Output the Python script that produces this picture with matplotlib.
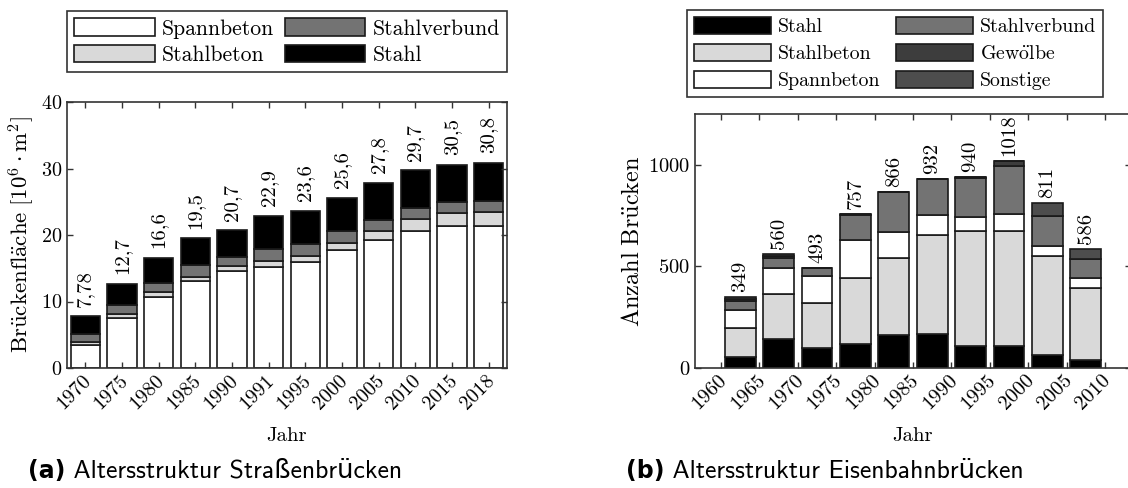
import matplotlib
matplotlib.use("Agg")
import matplotlib.pyplot as plt
import matplotlib.transforms as mtrans
import numpy as np

plt.rcParams['font.family'] = ['cmr10', 'DejaVu Serif']
plt.rcParams['mathtext.fontset'] = 'cm'
plt.rcParams['axes.formatter.use_mathtext'] = True
plt.rcParams['axes.unicode_minus'] = False
plt.rcParams['font.size'] = 15

W, H = 1128, 488

# ---------------- data (a) Straßenbrücken ----------------
years_a = ['1970', '1975', '1980', '1985', '1990', '1991', '1995', '2000', '2005', '2010', '2015', '2018']
a_spannbeton = [3.4, 7.45, 10.65, 13.15, 14.6, 15.2, 16.0, 17.8, 19.25, 20.65, 21.3, 21.4]
a_stahlbeton = [0.5, 0.65, 0.8, 0.6, 0.75, 0.85, 0.9, 1.0, 1.4, 1.7, 2.0, 2.0]
a_stahlverbund = [1.2, 1.3, 1.4, 1.75, 1.4, 1.8, 1.75, 1.75, 1.65, 1.75, 1.7, 1.7]
a_stahl = [2.68, 3.3, 3.75, 4.0, 3.95, 5.05, 4.95, 5.05, 5.5, 5.6, 5.5, 5.7]
a_totals = [7.78, 12.7, 16.6, 19.5, 20.7, 22.9, 23.6, 25.6, 27.8, 29.7, 30.5, 30.8]

# ---------------- data (b) Eisenbahnbrücken ----------------
ticks_b = ['1960', '1965', '1970', '1975', '1980', '1985', '1990', '1995', '2000', '2005', '2010']
b_stahl = [52, 143, 98, 118, 162, 167, 110, 110, 66, 39]
b_stahlbeton = [143, 221, 222, 325, 377, 487, 565, 565, 483, 354]
b_spannbeton = [92, 128, 131, 188, 128, 98, 68, 84, 53, 50]
b_stahlverbund = [44, 49, 42, 123, 197, 178, 194, 233, 144, 95]
b_gewoelbe = [10, 8, 0, 3, 2, 2, 3, 26, 0, 0]
b_sonstige = [8, 11, 0, 0, 0, 0, 0, 0, 65, 48]
b_totals = [349, 560, 493, 757, 866, 932, 940, 1018, 811, 586]

c_white = 'white'
c_light = '#d9d9d9'
c_mid = '#737373'
c_black = 'black'
c_gew = '#3d3d3d'
c_son = '#4d4d4d'
edge = '#1a1a1a'
spine_c = '#333333'

fig = plt.figure(figsize=(W / 100, H / 100), dpi=100)
ax1 = fig.add_axes([67 / W, 120 / H, 440 / W, 266 / H])
ax2 = fig.add_axes([695 / W, 120 / H, 436 / W, 254 / H])

def style(ax, fs):
    for s in ax.spines.values():
        s.set_color(spine_c)
        s.set_linewidth(1.2)
    ax.tick_params(direction='in', top=True, right=True, length=4, width=1,
                   color=spine_c, labelsize=fs)
    ax.tick_params(axis='x', pad=7)
    shift = mtrans.ScaledTranslation(3 / 100, 0, fig.dpi_scale_trans)
    for lab in ax.get_xticklabels():
        lab.set_transform(lab.get_transform() + shift)

# ---------- chart (a) ----------
xa = np.arange(len(years_a))
bw = 0.8
kw = dict(width=bw, edgecolor=edge, linewidth=1.2)
bottom = np.zeros(len(xa))
series_a = [('Spannbeton', a_spannbeton, c_white), ('Stahlbeton', a_stahlbeton, c_light),
            ('Stahlverbund', a_stahlverbund, c_mid), ('Stahl', a_stahl, c_black)]
handles_a = {}
for name, vals, col in series_a:
    b = ax1.bar(xa, vals, bottom=bottom, color=col, label=name, **kw)
    handles_a[name] = b
    bottom += np.array(vals)
for x, t in zip(xa, a_totals):
    ax1.annotate(f"{t:g}".replace('.', ','), (x, t), xytext=(0, 7), textcoords='offset points',
                 rotation=90, ha='center', va='bottom', fontsize=15)
ax1.set_xlim(-0.5, len(xa) - 0.5)
ax1.set_ylim(0, 40)
ax1.set_yticks([0, 10, 20, 30, 40])
ax1.set_xticks(xa)
ax1.set_xticklabels(years_a, rotation=45, ha='right', va='center', rotation_mode='anchor')
style(ax1, 14.5)
ax1.set_xlabel('Jahr', fontsize=15, labelpad=10)
ax1.set_ylabel(r'$\mathrm{Br\ddot{u}ckenfl\ddot{a}che}\ [10^6\cdot\mathrm{m}^2]$', fontsize=16.5, labelpad=3)

order_a = ['Spannbeton', 'Stahlbeton', 'Stahlverbund', 'Stahl']
leg1 = fig.legend([handles_a[n] for n in order_a], order_a, ncol=2, loc='upper left',
                  bbox_to_anchor=(67 / W, 1 - 11 / H, 440 / W, 0.0), mode='expand',
                  borderaxespad=0, fancybox=False, framealpha=1, edgecolor=spine_c,
                  handlelength=3.7, handleheight=0.87, handletextpad=0.35,
                  labelspacing=0.28, columnspacing=0.8, borderpad=0.34, fontsize=15.6)
leg1.get_frame().set_linewidth(1.2)

# ---------- chart (b) ----------
xb = np.arange(len(b_totals)) + 0.5
bottom = np.zeros(len(xb))
series_b = [('Stahl', b_stahl, c_black), ('Stahlbeton', b_stahlbeton, c_light),
            ('Spannbeton', b_spannbeton, c_white), ('Stahlverbund', b_stahlverbund, c_mid),
            (r'$\mathrm{Gew\ddot{o}lbe}$', b_gewoelbe, c_gew), ('Sonstige', b_sonstige, c_son)]
handles_b = []
labels_b = []
for name, vals, col in series_b:
    b = ax2.bar(xb, vals, bottom=bottom, color=col, label=name, **kw)
    handles_b.append(b)
    labels_b.append(name)
    bottom += np.array(vals)
for x, t in zip(xb, b_totals):
    ax2.annotate(str(t), (x, t), xytext=(0, 3.5), textcoords='offset points',
                 rotation=90, ha='center', va='bottom', fontsize=15)
ax2.set_xlim(-0.68, 10.68)
ax2.set_ylim(0, 1250)
ax2.set_yticks([0, 500, 1000])
ax2.set_xticks(np.arange(len(ticks_b)))
ax2.set_xticklabels(ticks_b, rotation=45, ha='right', va='center', rotation_mode='anchor')
style(ax2, 14.8)
ax2.set_xlabel('Jahr', fontsize=15, labelpad=10)
ax2.set_ylabel(r'$\mathrm{Anzahl\ Br\ddot{u}cken}$', fontsize=17.5, labelpad=3)

leg2 = fig.legend(handles_b, labels_b, ncol=2, loc='upper left',
                  bbox_to_anchor=(687 / W, 1 - 10 / H), borderaxespad=0,
                  fancybox=False, framealpha=1, edgecolor=spine_c,
                  handlelength=3.87, handleheight=0.95, handletextpad=0.35,
                  labelspacing=0.38, columnspacing=0.8, borderpad=0.34, fontsize=14.3)
leg2.get_frame().set_linewidth(1.2)

# ---------- captions ----------
cap_fam = ['cmss10', 'DejaVu Sans']
fig.canvas.draw()
r = fig.canvas.get_renderer()
def caption(xc, tag, text):
    t1 = fig.text(0, 1 - 471 / H, tag, fontsize=17, weight='bold', family='DejaVu Sans',
                  ha='left', va='center')
    t2 = fig.text(0, 1 - 471 / H, ' ' + text, fontsize=18.5, family=cap_fam, ha='left', va='center')
    w1 = t1.get_window_extent(r).width
    w2 = t2.get_window_extent(r).width
    x0 = xc - (w1 + w2) / 2
    t1.set_x(x0 / W)
    t2.set_x((x0 + w1) / W)
caption(215, '(a)', 'Altersstruktur Straßenbrücken')
caption(825, '(b)', 'Altersstruktur Eisenbahnbrücken')

fig.savefig('out.png', dpi=100)
